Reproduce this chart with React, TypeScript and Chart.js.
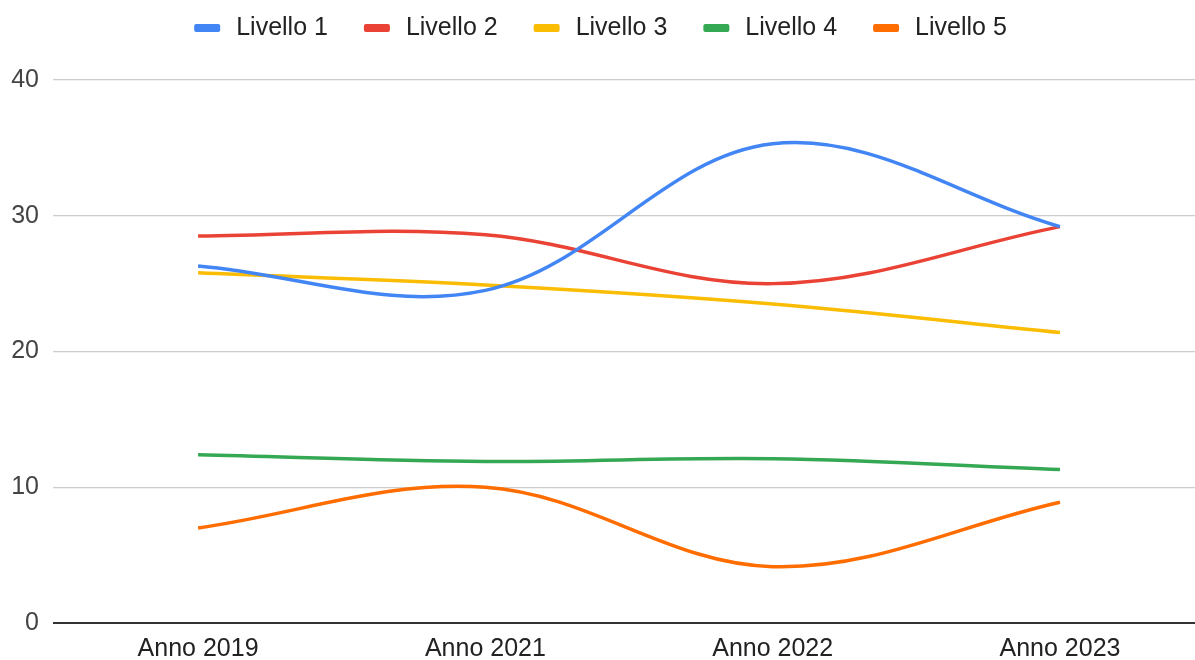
import React, { useEffect, useRef } from "react";
import { Chart, registerables } from "chart.js";

Chart.register(...registerables);

const categories = ["Anno 2019", "Anno 2021", "Anno 2022", "Anno 2023"];
const seriesNames = ["Livello 1", "Livello 2", "Livello 3", "Livello 4", "Livello 5"];
const livello1 = [26.3, 24.5, 35.3, 29.2];
const livello2 = [28.5, 28.6, 25.0, 29.2];
const livello3 = [25.8, 24.9, 23.5, 21.4];
const livello4 = [12.4, 11.9, 12.1, 11.3];
const livello5 = [7.0, 10.0, 4.15, 8.9];
const seriesColors = ["#4285F4", "#EA4335", "#FBBC04", "#34A853", "#FF6D01"];
const yTicks = [0, 10, 20, 30, 40];

const FONT = '"Liberation Sans", Arial, sans-serif';

const legendPlugin = {
  id: "topLegend",
  afterDraw(chart: any) {
    const ctx = chart.ctx as CanvasRenderingContext2D;
    ctx.save();
    ctx.font = `25px ${FONT}`;
    const sw = 26;
    const gap = 16;
    const spacing = 36;
    const items = chart.data.datasets.map((d: any) => ({
      label: d.label as string,
      color: d.borderColor as string,
      w: ctx.measureText(d.label).width,
    }));
    const total =
      items.reduce((s: number, it: any) => s + sw + gap + it.w, 0) +
      spacing * (items.length - 1);
    let x = (chart.width - total) / 2 + 3;
    const y = 28;
    ctx.textBaseline = "middle";
    ctx.textAlign = "left";
    for (const it of items) {
      ctx.fillStyle = it.color;
      ctx.beginPath();
      (ctx as any).roundRect
        ? (ctx as any).roundRect(x, y - 4, sw, 8, 2)
        : ctx.rect(x, y - 4, sw, 8);
      ctx.fill();
      ctx.fillStyle = "#222";
      ctx.fillText(it.label, x + sw + gap, y);
      x += sw + gap + it.w + spacing;
    }
    ctx.restore();
  },
};

export default function App() {
  const ref = useRef<HTMLCanvasElement | null>(null);

  useEffect(() => {
    if (!ref.current) return;
    const all = [livello1, livello2, livello3, livello4, livello5];
    const chart = new Chart(ref.current, {
      type: "line",
      data: {
        datasets: all.map((vals, si) => ({
          label: seriesNames[si],
          data: vals.map((v, i) => ({ x: i, y: v })),
          borderColor: seriesColors[si],
          backgroundColor: seriesColors[si],
          borderWidth: 3.5,
          pointRadius: 0,
          tension: 0.36,
          fill: false,
        })),
      },
      options: {
        animation: false,
        responsive: true,
        maintainAspectRatio: false,
        layout: { padding: { top: 80, right: 0, bottom: 0, left: 0 } },
        plugins: {
          legend: { display: false },
          tooltip: { enabled: false },
        },
        scales: {
          x: {
            type: "linear",
            min: -0.505,
            max: 3.47,
            afterBuildTicks: (scale: any) => {
              scale.ticks = categories.map((_, i) => ({ value: i }));
            },
            afterFit: (scale: any) => {
              scale.height = 37;
            },
            ticks: {
              autoSkip: false,
              maxRotation: 0,
              padding: 11,
              color: "#222",
              font: { family: FONT, size: 25 },
              callback: (v: any) => categories[Number(v)] ?? "",
            },
            grid: { display: false, drawTicks: false },
            border: { display: false },
          },
          y: {
            min: 0,
            max: 40,
            afterBuildTicks: (scale: any) => {
              scale.ticks = yTicks.map((v) => ({ value: v }));
            },
            afterFit: (scale: any) => {
              scale.width = 53;
            },
            ticks: {
              padding: 14,
              color: "#444",
              font: { family: FONT, size: 25 },
            },
            grid: {
              drawTicks: false,
              color: (c: any) => (c.tick && c.tick.value === 0 ? "#333" : "#ccc"),
              lineWidth: (c: any) => (c.tick && c.tick.value === 0 ? 2 : 1.2),
            },
            border: { display: false },
          },
        },
      },
      plugins: [legendPlugin],
    });
    return () => chart.destroy();
  }, []);

  return (
    <div
      style={{
        position: "fixed",
        left: 0,
        top: 0,
        width: 1195,
        height: 660,
        background: "#fff",
      }}
    >
      <canvas ref={ref} />
    </div>
  );
}
